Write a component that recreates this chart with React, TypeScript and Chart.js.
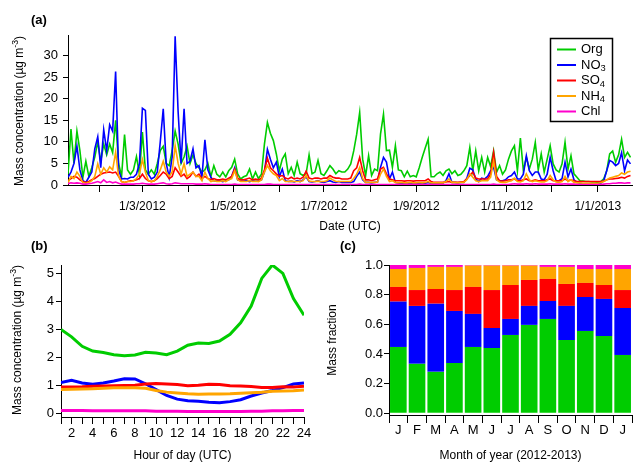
import React, { useEffect, useRef } from "react";
import { Chart, registerables } from "chart.js";

Chart.register(...registerables);

const FONT = "'Liberation Sans', Arial, Helvetica, sans-serif";
const C_ORG = "#00cc00";
const C_NO3 = "#0000ff";
const C_SO4 = "#ff0000";
const C_NH4 = "#ffa500";
const C_CHL = "#ff00cc";

// ---------- (a) time series: 2-day sampling, x = day of 2012 (0 = 1 Jan 2012)
const seriesStartDay = 10;
const seriesStepDays = 2;
const orgTS = [
  2.5, 13, 5, 12.5, 8, 1.8, 5.5, 2, 4, 6.5, 10, 5.5, 9.5, 7, 9.5, 7.5, 15, 5, 2, 11.7,
  3.5, 2.5, 3.5, 6.6, 2.5, 12.3, 3.5, 2.5, 3.5, 2.5, 5, 8, 9, 5, 4.5, 8, 12.5, 9.5, 5, 6.5,
  9, 5, 7, 5, 4, 3, 3.5, 5, 2, 4.5, 2.5, 1.9, 3, 1.9, 3.3, 4.1, 6, 2.6, 1.4, 1.9,
  2.2, 3.7, 1.4, 3, 1.5, 2.5, 9.5, 14.5, 12, 10.3, 7.2, 3.3, 6, 7.2, 2.6, 4.1, 2.2, 5.3, 2.6, 2.2,
  2.6, 7, 2.6, 3, 5.7, 2.6, 2.2, 3.3, 4.5, 3.7, 2.6, 3.3, 3, 3, 3.7, 4.9, 7.9, 11.8, 16.8, 6,
  2.2, 6.8, 2.2, 3.7, 3.3, 11.8, 16.4, 8, 8.1, 4.1, 9.1, 3.5, 3.3, 1.9, 3.2, 1.9, 2.2, 1.9, 4, 6.4,
  8.5, 10.6, 1.9, 1.9, 2.6, 3, 2.2, 3.3, 3.7, 2.6, 3.3, 2.2, 2.5, 3.3, 4.5, 8.7, 3.3, 7.9, 3.3, 6.4,
  3, 6.4, 4.3, 7.9, 3, 4.5, 2.5, 3.5, 6, 7.9, 9.1, 3.3, 10.9, 3.3, 6.4, 3.7, 6, 9.9, 3.5, 7.2,
  3, 6, 9.1, 4.9, 3.5, 3, 4.9, 9.9, 3.7, 6.8, 2.6, 1.8, 1, 0.9, 0.8, 0.8, 0.7, 0.7, 0.6, 0.8,
  1.4, 3.3, 7.2, 7.9, 5.3, 7, 10.6, 6.4, 7.6, 6.4,
];
const no3TS = [
  1.8, 3, 5, 9, 3.5, 1, 0.6, 1.8, 3, 8.4, 11.2, 4, 12.8, 8, 14, 12.5, 26.3, 3.5, 1.4, 1.5,
  1.4, 1.8, 1.8, 2.5, 5, 17.8, 17.3, 2.5, 1.4, 1.8, 3, 10, 17.7, 5, 1.8, 6.5, 34.5, 17, 5, 17.7,
  5, 5.5, 8.4, 4, 4.5, 1.8, 10.5, 3.5, 1.8, 1, 0.9, 1, 0.8, 1, 1.2, 2, 4, 1.2, 1, 0.9,
  1, 0.8, 1, 0.9, 1, 1.2, 3, 8.3, 6, 4, 5.3, 1.9, 3.7, 1, 0.8, 0.9, 0.7, 1, 0.8, 1.2,
  1.9, 0.8, 0.7, 0.8, 1, 0.7, 0.6, 0.8, 1, 0.7, 0.6, 0.8, 0.6, 0.6, 0.6, 0.6, 0.8, 2, 3, 1.2,
  0.6, 0.6, 0.5, 0.6, 0.7, 4.1, 6.4, 5.3, 1.4, 3, 0.6, 0.4, 0.5, 0.4, 0.4, 0.5, 0.4, 0.4, 0.5, 0.4,
  0.4, 0.6, 0.4, 0.4, 0.4, 0.5, 0.4, 1, 2.6, 0.6, 0.6, 0.5, 0.6, 0.6, 1.5, 3.9, 3.5, 1.4, 0.8, 1.6,
  1.4, 2, 3.3, 4.1, 1.2, 1, 1, 1.2, 1.9, 2.2, 3, 1.4, 1.4, 2.5, 6.8, 3.3, 2.2, 3, 3, 1.4,
  1.2, 2.5, 6.4, 3.3, 1, 1, 1.5, 5.3, 1.9, 3.7, 1.2, 0.6, 0.4, 0.3, 0.3, 0.3, 0.3, 0.3, 0.3, 0.4,
  1, 3.3, 5.7, 5.3, 4.5, 5, 7.5, 3.3, 5.8, 4.9,
];
const so4TS = [
  1, 1.5, 2, 1.8, 1.2, 0.8, 0.6, 0.8, 1.2, 1.5, 2, 2.5, 2.8, 2.9, 3, 2.8, 3, 2, 0.8, 0.6,
  0.8, 1, 1, 1.2, 1.5, 2.5, 1.5, 1, 0.8, 1, 1.5, 2.2, 3, 2.5, 1.5, 2, 4, 3, 2, 2.5,
  1.5, 2, 3, 2, 2.5, 1.5, 2, 1.5, 1.2, 1.5, 1.2, 1.2, 1.4, 1.2, 1.6, 2, 3.7, 1.6, 1.2, 1.2,
  1.4, 1.6, 1.2, 1.4, 1.2, 1.6, 3.5, 6.2, 4, 3.3, 2.6, 2, 2.2, 1.6, 1.4, 1.8, 1.4, 1.6, 1.4, 1.8,
  3.2, 1.6, 1.4, 1.6, 1.6, 1.4, 1.6, 1.6, 2.2, 1.8, 1.6, 1.6, 1.4, 1.4, 1.4, 1.6, 3.3, 4, 6.4, 3.3,
  1.2, 1.2, 1, 1.2, 1.4, 3.7, 4.1, 2.6, 1.4, 1.2, 1, 1, 1, 0.9, 1, 1, 0.9, 1, 1, 1,
  1, 1.4, 0.8, 0.6, 0.6, 0.6, 0.6, 0.7, 0.8, 0.6, 0.6, 0.6, 0.7, 0.8, 1.4, 2.2, 3, 1.6, 1.4, 1.4,
  1.4, 1.4, 2.5, 7.5, 2, 1, 0.9, 1, 1.2, 1.2, 1.4, 1, 1, 1.2, 1.4, 1, 1, 1.2, 1, 1,
  1, 1.2, 1.4, 1, 1, 1, 1, 1.4, 1, 1.2, 1, 0.8, 0.8, 0.8, 0.8, 0.8, 0.8, 0.8, 0.8, 0.8,
  0.9, 1.2, 1.4, 1.4, 1.5, 1.6, 1.8, 1.6, 2, 2.2,
];
const nh4TS = [
  0.5, 2, 1.5, 3, 2, 0.5, 0.4, 0.6, 1, 2, 4.9, 2.5, 4, 3, 4.2, 3.5, 7.6, 2, 0.8, 0.6,
  0.8, 0.8, 1, 1.5, 2.5, 5.9, 3, 1, 0.8, 1, 2, 3.5, 5.5, 3, 2, 3, 9.1, 5, 2.5, 5,
  2, 2.5, 3, 2, 2, 1, 3, 1.5, 0.8, 1, 0.8, 0.8, 1, 0.8, 1.2, 1.5, 3.3, 1.2, 0.8, 0.8,
  0.8, 1, 0.8, 0.9, 0.8, 1.2, 3, 4.5, 3.3, 2.6, 2.2, 1, 1.5, 0.8, 0.8, 0.9, 0.8, 0.8, 0.8, 1,
  2.2, 0.9, 0.8, 0.8, 0.9, 0.8, 0.8, 1, 1.6, 1.2, 0.8, 0.8, 0.8, 0.8, 0.8, 0.8, 1.5, 2.5, 4.1, 1.5,
  0.6, 0.6, 0.6, 0.6, 0.7, 2.5, 3.7, 2, 0.8, 1, 0.6, 0.5, 0.6, 0.5, 0.5, 0.6, 0.5, 0.5, 0.6, 0.5,
  0.6, 0.8, 0.5, 0.5, 0.5, 0.5, 0.5, 0.8, 1.4, 0.6, 0.6, 0.5, 0.6, 0.6, 1.2, 2.6, 1.8, 1, 0.8, 1,
  1, 1, 1.8, 5.5, 1.2, 0.7, 0.6, 0.6, 0.8, 1, 1.6, 0.8, 0.7, 1, 2.6, 1.2, 0.8, 1, 0.8, 0.7,
  0.7, 1, 2.2, 1.2, 0.7, 0.6, 0.8, 2, 0.8, 1.2, 0.6, 0.5, 0.5, 0.4, 0.4, 0.4, 0.4, 0.4, 0.4, 0.5,
  0.8, 1.2, 1.6, 1.8, 2, 2.2, 2.8, 2.5, 3, 3.2,
];
const chlTS = [
  0.3, 0.5, 0.4, 0.5, 0.4, 0.2, 0.2, 0.3, 0.4, 0.6, 0.8, 0.5, 1.2, 0.6, 0.8, 0.5, 0.7, 0.4, 0.2, 0.2,
  0.2, 0.2, 0.2, 0.3, 0.3, 0.4, 0.3, 0.2, 0.2, 0.2, 0.3, 0.4, 0.5, 0.3, 0.2, 0.3, 0.5, 0.4, 0.3, 0.3,
  0.3, 0.3, 0.3, 0.2, 0.2, 0.2, 0.3, 0.2, 0.1, 0.1, 0.1, 0.1, 0.1, 0.1, 0.1, 0.1, 0.2, 0.1, 0.1, 0.1,
  0.1, 0.1, 0.1, 0.1, 0.1, 0.1, 0.1, 0.2, 0.2, 0.1, 0.1, 0.1, 0.1, 0.1, 0.1, 0.1, 0.1, 0.1, 0.1, 0.1,
  0.1, 0.1, 0.1, 0.1, 0.1, 0.1, 0.1, 0.1, 0.1, 0.1, 0.1, 0.1, 0.1, 0.1, 0.1, 0.1, 0.1, 0.1, 0.2, 0.1,
  0.1, 0.1, 0.1, 0.1, 0.1, 0.1, 0.1, 0.1, 0.1, 0.1, 0.1, 0.1, 0.1, 0.1, 0.1, 0.1, 0.1, 0.1, 0.1, 0.1,
  0.1, 0.1, 0.1, 0.1, 0.1, 0.1, 0.1, 0.1, 0.1, 0.1, 0.1, 0.1, 0.1, 0.1, 0.1, 0.1, 0.1, 0.1, 0.1, 0.1,
  0.1, 0.1, 0.1, 0.2, 0.1, 0.1, 0.1, 0.1, 0.1, 0.2, 0.3, 0.2, 0.2, 0.2, 0.3, 0.2, 0.2, 0.3, 0.2, 0.2,
  0.2, 0.2, 0.3, 0.2, 0.2, 0.2, 0.2, 0.3, 0.2, 0.2, 0.2, 0.1, 0.1, 0.1, 0.1, 0.1, 0.1, 0.1, 0.1, 0.1,
  0.2, 0.3, 0.3, 0.4, 0.4, 0.5, 0.5, 0.4, 0.5, 0.5,
];
const tsDays = orgTS.map((_, i) => seriesStartDay + i * seriesStepDays);
const monthTickDays = [31, 60, 91, 121, 152, 182, 213, 244, 274, 305, 335, 366];
const monthTickLabels = ["", "1/3/2012", "", "1/5/2012", "", "1/7/2012", "", "1/9/2012", "", "1/11/2012", "", "1/1/2013"];
const tsYTicks = [0, 5, 10, 15, 20, 25, 30];

// ---------- (b) diurnal cycle
const hours = [1, 2, 3, 4, 5, 6, 7, 8, 9, 10, 11, 12, 13, 14, 15, 16, 17, 18, 19, 20, 21, 22, 23, 24];
const orgHour = [2.99, 2.73, 2.39, 2.22, 2.17, 2.09, 2.05, 2.08, 2.18, 2.15, 2.09, 2.22, 2.43, 2.51, 2.49, 2.58, 2.82, 3.23, 3.83, 4.82, 5.3, 5.0, 4.1, 3.5];
const no3Hour = [1.09, 1.17, 1.08, 1.03, 1.08, 1.15, 1.23, 1.22, 1.05, 0.84, 0.63, 0.5, 0.44, 0.42, 0.39, 0.37, 0.41, 0.48, 0.61, 0.72, 0.81, 0.91, 1.04, 1.08];
const so4Hour = [0.93, 0.93, 0.94, 0.96, 0.97, 0.98, 0.99, 1.0, 1.04, 1.06, 1.04, 1.02, 0.98, 1.0, 1.03, 1.02, 0.98, 0.97, 0.95, 0.92, 0.92, 0.94, 0.93, 0.96];
const nh4Hour = [0.84, 0.85, 0.86, 0.87, 0.89, 0.91, 0.91, 0.91, 0.89, 0.81, 0.75, 0.72, 0.69, 0.67, 0.68, 0.68, 0.69, 0.71, 0.73, 0.75, 0.78, 0.79, 0.8, 0.83];
const chlHour = [0.09, 0.09, 0.09, 0.08, 0.08, 0.08, 0.08, 0.08, 0.08, 0.07, 0.07, 0.07, 0.06, 0.06, 0.06, 0.06, 0.06, 0.06, 0.07, 0.07, 0.08, 0.08, 0.09, 0.09];
const hourYTicks = [0, 1, 2, 3, 4, 5];

// ---------- (c) monthly mass fractions
const monthLabels = ["J", "F", "M", "A", "M", "J", "J", "A", "S", "O", "N", "D", "J"];
const orgFrac = [0.447, 0.333, 0.279, 0.339, 0.447, 0.44, 0.528, 0.596, 0.636, 0.494, 0.555, 0.521, 0.393];
const no3Frac = [0.306, 0.391, 0.46, 0.351, 0.223, 0.135, 0.108, 0.128, 0.121, 0.23, 0.229, 0.25, 0.317];
const so4Frac = [0.099, 0.107, 0.099, 0.141, 0.182, 0.256, 0.229, 0.175, 0.149, 0.148, 0.095, 0.094, 0.121];
const nh4Frac = [0.121, 0.149, 0.149, 0.156, 0.144, 0.165, 0.131, 0.097, 0.081, 0.115, 0.094, 0.108, 0.142];
const chlFrac = [0.027, 0.02, 0.013, 0.013, 0.004, 0.004, 0.004, 0.004, 0.013, 0.013, 0.027, 0.027, 0.027];
const fracYTicks = [0, 0.2, 0.4, 0.6, 0.8, 1.0];

// ---------- helpers
type Part = { t: string; s?: "sub" | "sup" };

function partFont(p: Part, size: number, bold = false) {
  const sz = p.s ? size * 0.72 : size;
  return `${bold ? "bold " : ""}${sz}px ${FONT}`;
}
function richWidth(ctx: CanvasRenderingContext2D, parts: Part[], size: number) {
  let w = 0;
  for (const p of parts) {
    ctx.font = partFont(p, size);
    w += ctx.measureText(p.t).width;
  }
  return w;
}
function drawRich(ctx: CanvasRenderingContext2D, parts: Part[], x: number, y: number, size: number, align: "left" | "center") {
  const w = richWidth(ctx, parts, size);
  let cx = align === "center" ? x - w / 2 : x;
  ctx.textAlign = "left";
  ctx.textBaseline = "middle";
  ctx.fillStyle = "#000";
  for (const p of parts) {
    ctx.font = partFont(p, size);
    const dy = p.s === "sub" ? size * 0.3 : p.s === "sup" ? -size * 0.38 : 0;
    ctx.fillText(p.t, cx, y + dy);
    cx += ctx.measureText(p.t).width;
  }
}
function drawRotated(ctx: CanvasRenderingContext2D, parts: Part[], x: number, y: number, size: number) {
  ctx.save();
  ctx.translate(x, y);
  ctx.rotate(-Math.PI / 2);
  drawRich(ctx, parts, 0, 0, size, "center");
  ctx.restore();
}
function drawLabel(ctx: CanvasRenderingContext2D, text: string, x: number, y: number) {
  ctx.save();
  ctx.font = `bold 13px ${FONT}`;
  ctx.fillStyle = "#000";
  ctx.textAlign = "left";
  ctx.textBaseline = "middle";
  ctx.fillText(text, x, y);
  ctx.restore();
}

const concTitle: Part[] = [{ t: "Mass concentration (µg m" }, { t: "-3", s: "sup" }, { t: ")" }];

const legendItems: { parts: Part[]; color: string }[] = [
  { parts: [{ t: "Org" }], color: C_ORG },
  { parts: [{ t: "NO" }, { t: "3", s: "sub" }], color: C_NO3 },
  { parts: [{ t: "SO" }, { t: "4", s: "sub" }], color: C_SO4 },
  { parts: [{ t: "NH" }, { t: "4", s: "sub" }], color: C_NH4 },
  { parts: [{ t: "Chl" }], color: C_CHL },
];

function axisCommon(tickLength: number, padding: number, size = 13) {
  return {
    grid: { drawOnChartArea: false, drawTicks: true, tickLength, color: "#000", lineWidth: 1 },
    border: { display: true, color: "#000", width: 1 },
    ticks: { color: "#000", font: { family: FONT, size }, padding, autoSkip: false, maxRotation: 0, minRotation: 0 },
  };
}
function fixedBox(prop: "width" | "height", value: number) {
  return (s: any) => {
    s[prop] = value;
    s.paddingLeft = 0;
    s.paddingRight = 0;
    s.paddingTop = 0;
    s.paddingBottom = 0;
  };
}
function lineSet(label: string, xs: number[], ys: number[], color: string, width: number, order: number) {
  return {
    label,
    data: xs.map((x, i) => ({ x, y: ys[i] })),
    borderColor: color,
    backgroundColor: color,
    borderWidth: width,
    pointRadius: 0,
    tension: 0,
    fill: false,
    order,
  };
}

export default function App() {
  const refA = useRef<HTMLCanvasElement>(null);
  const refB = useRef<HTMLCanvasElement>(null);
  const refC = useRef<HTMLCanvasElement>(null);

  useEffect(() => {
    const charts: Chart[] = [];

    // ---------------- panel (a)
    const axA = axisCommon(7, 7, 12);
    const ayA = axisCommon(5, 5);
    charts.push(
      new Chart(refA.current as HTMLCanvasElement, {
        type: "line",
        data: {
          datasets: [
            lineSet("Org", tsDays, orgTS, C_ORG, 1.6, 4),
            lineSet("NO3", tsDays, no3TS, C_NO3, 1.6, 3),
            lineSet("SO4", tsDays, so4TS, C_SO4, 1.6, 2),
            lineSet("NH4", tsDays, nh4TS, C_NH4, 1.6, 1),
            lineSet("Chl", tsDays, chlTS, C_CHL, 1.6, 0),
          ] as any,
        },
        options: {
          responsive: false,
          animation: false,
          events: [],
          layout: { padding: { left: 0, right: 1, top: 35, bottom: 237 } },
          plugins: { legend: { display: false }, tooltip: { enabled: false }, title: { display: false } },
          scales: {
            x: {
              type: "linear",
              min: 10,
              max: 389,
              ...axA,
              ticks: { ...axA.ticks, callback: (_v: any, i: number) => monthTickLabels[i] },
              afterBuildTicks: (s: any) => {
                s.ticks = monthTickDays.map((v) => ({ value: v }));
              },
              afterFit: fixedBox("height", 40),
            },
            y: {
              type: "linear",
              min: 0,
              max: 34.8,
              ...ayA,
              afterBuildTicks: (s: any) => {
                s.ticks = tsYTicks.map((v) => ({ value: v }));
              },
              afterFit: fixedBox("width", 68),
            },
          } as any,
        },
        plugins: [
          {
            id: "decorA",
            afterDraw(chart: any) {
              const ctx = chart.ctx as CanvasRenderingContext2D;
              ctx.save();
              drawLabel(ctx, "(a)", 31, 20);
              drawRotated(ctx, concTitle, 20, 111, 12);
              drawRich(ctx, [{ t: "Date (UTC)" }], 350, 227, 12, "center");
              // legend box
              ctx.fillStyle = "#fff";
              ctx.fillRect(550, 38, 63, 84);
              ctx.strokeStyle = "#000";
              ctx.lineWidth = 1.5;
              ctx.strokeRect(550.5, 38.5, 62, 83);
              const rows = [49.5, 65, 80.5, 96, 111.5];
              legendItems.forEach((it, i) => {
                ctx.strokeStyle = it.color;
                ctx.lineWidth = 2;
                ctx.beginPath();
                ctx.moveTo(557, rows[i]);
                ctx.lineTo(576, rows[i]);
                ctx.stroke();
                drawRich(ctx, it.parts, 581, rows[i], 13, "left");
              });
              ctx.restore();
            },
          },
        ],
      })
    );

    // ---------------- panel (b)
    const axB = axisCommon(7, 2);
    const ayB = axisCommon(5, 2);
    charts.push(
      new Chart(refB.current as HTMLCanvasElement, {
        type: "line",
        data: {
          datasets: [
            lineSet("Org", hours, orgHour, C_ORG, 3, 4),
            lineSet("NO3", hours, no3Hour, C_NO3, 3, 3),
            lineSet("SO4", hours, so4Hour, C_SO4, 3, 2),
            lineSet("NH4", hours, nh4Hour, C_NH4, 3, 1),
            lineSet("Chl", hours, chlHour, C_CHL, 3, 0),
          ] as any,
        },
        options: {
          responsive: false,
          animation: false,
          events: [],
          layout: { padding: { left: 0, right: 329, top: 265, bottom: 15 } },
          plugins: { legend: { display: false }, tooltip: { enabled: false }, title: { display: false } },
          scales: {
            x: {
              type: "linear",
              min: 1,
              max: 24,
              ...axB,
              ticks: { ...axB.ticks, callback: (v: any) => (Number(v) % 2 === 0 ? String(v) : "") },
              afterBuildTicks: (s: any) => {
                s.ticks = hours.map((v) => ({ value: v }));
              },
              afterFit: fixedBox("height", 30),
            },
            y: {
              type: "linear",
              min: -0.14,
              max: 5.3,
              ...ayB,
              afterBuildTicks: (s: any) => {
                s.ticks = hourYTicks.map((v) => ({ value: v }));
              },
              afterFit: fixedBox("width", 61),
            },
          } as any,
        },
        plugins: [
          {
            id: "decorB",
            afterDraw(chart: any) {
              const ctx = chart.ctx as CanvasRenderingContext2D;
              ctx.save();
              drawLabel(ctx, "(b)", 31, 246);
              drawRotated(ctx, concTitle, 18, 340, 12);
              drawRich(ctx, [{ t: "Hour of day (UTC)" }], 182.5, 456, 12, "center");
              ctx.restore();
            },
          },
        ],
      })
    );

    // ---------------- panel (c)
    const axC = axisCommon(8, 0);
    const ayC = axisCommon(5, 1);
    const barSet = (label: string, vals: number[], color: string) => ({
      label,
      data: vals,
      backgroundColor: color,
      borderWidth: 0,
      barPercentage: 1,
      categoryPercentage: 0.89,
    });
    charts.push(
      new Chart(refC.current as HTMLCanvasElement, {
        type: "bar",
        data: {
          labels: monthLabels,
          datasets: [
            barSet("Org", orgFrac, C_ORG),
            barSet("NO3", no3Frac, C_NO3),
            barSet("SO4", so4Frac, C_SO4),
            barSet("NH4", nh4Frac, C_NH4),
            barSet("Chl", chlFrac, C_CHL),
          ] as any,
        },
        options: {
          responsive: false,
          animation: false,
          events: [],
          layout: { padding: { left: 329, right: 1, top: 265, bottom: 17 } },
          plugins: { legend: { display: false }, tooltip: { enabled: false }, title: { display: false } },
          scales: {
            x: {
              type: "category",
              stacked: true,
              ...axC,
              grid: { ...axC.grid, offset: true },
              afterFit: fixedBox("height", 30),
            },
            y: {
              type: "linear",
              stacked: true,
              min: -0.012,
              max: 1.0,
              ...ayC,
              ticks: { ...ayC.ticks, callback: (v: any) => Number(v).toFixed(1) },
              afterBuildTicks: (s: any) => {
                s.ticks = fracYTicks.map((v) => ({ value: v }));
              },
              afterFit: fixedBox("width", 60),
            },
          } as any,
        },
        plugins: [
          {
            id: "decorC",
            afterDraw(chart: any) {
              const ctx = chart.ctx as CanvasRenderingContext2D;
              ctx.save();
              drawLabel(ctx, "(c)", 340, 246);
              drawRotated(ctx, [{ t: "Mass fraction" }], 333, 340, 12);
              drawRich(ctx, [{ t: "Month of year (2012-2013)" }], 510.5, 456, 12, "center");
              ctx.restore();
            },
          },
        ],
      })
    );

    return () => {
      charts.forEach((c) => c.destroy());
    };
  }, []);

  const cv: React.CSSProperties = { position: "absolute", left: 0, top: 0, width: 633, height: 462 };
  return (
    <div style={{ position: "absolute", left: 0, top: 0, width: 633, height: 462, background: "#fff", overflow: "hidden" }}>
      <canvas ref={refA} width={633} height={462} style={cv} />
      <canvas ref={refB} width={633} height={462} style={cv} />
      <canvas ref={refC} width={633} height={462} style={cv} />
    </div>
  );
}
